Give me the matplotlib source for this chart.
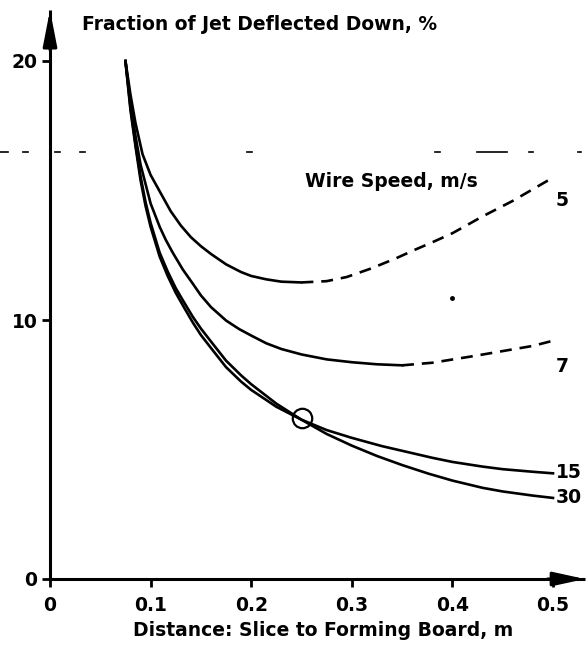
import matplotlib
matplotlib.use("Agg")
import matplotlib.pyplot as plt

# ---- data ----
x5_solid = [0.075, 0.08, 0.085, 0.092, 0.1, 0.11, 0.12, 0.13, 0.14, 0.15, 0.16, 0.175, 0.19, 0.2, 0.215, 0.23, 0.25]
y5_solid = [20.0, 18.7, 17.6, 16.4, 15.6, 14.9, 14.2, 13.65, 13.2, 12.85, 12.55, 12.15, 11.85, 11.7, 11.57, 11.48, 11.45]
x5_dash = [0.25, 0.275, 0.295, 0.32, 0.345, 0.362, 0.38, 0.4, 0.43, 0.46, 0.48, 0.5]
y5_dash = [11.45, 11.5, 11.66, 12.0, 12.4, 12.7, 13.0, 13.35, 14.0, 14.6, 15.05, 15.5]

x7_solid = [0.075, 0.08, 0.085, 0.09, 0.1, 0.109, 0.115, 0.122, 0.132, 0.142, 0.15, 0.16, 0.175, 0.188, 0.2, 0.215, 0.23, 0.25, 0.275, 0.3, 0.325, 0.35]
y7_solid = [20.0, 18.4, 17.1, 16.0, 14.5, 13.6, 13.1, 12.6, 11.95, 11.4, 10.95, 10.5, 9.98, 9.65, 9.4, 9.1, 8.88, 8.67, 8.48, 8.37, 8.29, 8.25]
x7_dash = [0.35, 0.38, 0.42, 0.45, 0.48, 0.5]
y7_dash = [8.25, 8.35, 8.6, 8.8, 9.0, 9.2]

x15 = [0.075, 0.08, 0.085, 0.09, 0.095, 0.1, 0.109, 0.117, 0.125, 0.133, 0.142, 0.15, 0.16, 0.175, 0.19, 0.2, 0.225, 0.25, 0.275, 0.3, 0.33, 0.35, 0.38, 0.4, 0.43, 0.45, 0.48, 0.5]
y15 = [20.0, 18.1, 16.7, 15.4, 14.4, 13.6, 12.45, 11.7, 11.05, 10.5, 9.9, 9.42, 8.92, 8.18, 7.62, 7.3, 6.65, 6.15, 5.75, 5.45, 5.13, 4.95, 4.68, 4.52, 4.34, 4.24, 4.14, 4.08]
x30 = [0.075, 0.08, 0.085, 0.09, 0.095, 0.1, 0.109, 0.117, 0.125, 0.133, 0.142, 0.15, 0.16, 0.175, 0.19, 0.2, 0.225, 0.25, 0.275, 0.3, 0.325, 0.35, 0.376, 0.4, 0.43, 0.45, 0.48, 0.5]
y30 = [20.0, 18.2, 16.8, 15.55, 14.55, 13.75, 12.6, 11.87, 11.23, 10.7, 10.12, 9.67, 9.17, 8.43, 7.86, 7.52, 6.77, 6.15, 5.6, 5.15, 4.75, 4.4, 4.07, 3.8, 3.52, 3.38, 3.22, 3.13]

end_labels = ["5", "7", "15", "30"]
end_label_y = [14.6, 8.2, 4.13, 3.13]
circle_point = (0.25, 6.2)

x_ticks = [0, 0.1, 0.2, 0.3, 0.4, 0.5]
x_tick_labels = ["0", "0.1", "0.2", "0.3", "0.4", "0.5"]
y_ticks = [0, 10, 20]
y_tick_labels = ["0", "10", "20"]

title_text = "Fraction of Jet Deflected Down, %"
xlabel_text = "Distance: Slice to Forming Board, m"
legend_title = "Wire Speed, m/s"

# ---- figure ----
FONT = ["DejaVu Sans"]
plt.rcParams["font.family"] = FONT
plt.rcParams["font.weight"] = "bold"
FS = 13.5

W, H = 588, 650
fig = plt.figure(figsize=(W / 100, H / 100), dpi=100)
ax = fig.add_axes([50 / W, 71 / H, 535 / W, 569 / H])
ax.set_xlim(0, 535 / 1006)
ax.set_ylim(0, 569 / 25.9)

for s in ["top", "right"]:
    ax.spines[s].set_visible(False)
for s in ["left", "bottom"]:
    ax.spines[s].set_linewidth(2.2)
    ax.spines[s].set_capstyle("butt")

ax.set_xticks(x_ticks)
ax.set_xticklabels(x_tick_labels, fontsize=FS, fontweight="bold")
ax.set_yticks(y_ticks)
ax.set_yticklabels(y_tick_labels, fontsize=FS, fontweight="bold")
ax.tick_params(axis="x", direction="out", length=6, width=2, pad=6)
ax.tick_params(axis="y", direction="out", length=6, width=2, pad=3)

# arrow heads on axes
ax.annotate("", xy=(1.0, 0), xytext=(0.93, 0), xycoords="axes fraction",
            arrowprops=dict(arrowstyle="-|>,head_length=1.6,head_width=0.35",
                            mutation_scale=12, color="black", lw=2.2,
                            shrinkA=0, shrinkB=0), annotation_clip=False)
ax.annotate("", xy=(0, 1.0), xytext=(0, 0.93), xycoords="axes fraction",
            arrowprops=dict(arrowstyle="-|>,head_length=1.8,head_width=0.35",
                            mutation_scale=12, color="black", lw=2.2,
                            shrinkA=0, shrinkB=0), annotation_clip=False)

lw = 1.9
ax.plot(x5_solid, y5_solid, color="black", lw=lw, solid_capstyle="round", solid_joinstyle="round")
ax.plot(x5_dash, y5_dash, color="black", lw=lw, dashes=(4.5, 3), dash_capstyle="butt")
ax.plot(x7_solid, y7_solid, color="black", lw=lw, solid_joinstyle="round")
ax.plot(x7_dash, y7_dash, color="black", lw=lw, dashes=(4.5, 3), dash_capstyle="butt")
ax.plot(x15, y15, color="black", lw=lw, solid_joinstyle="round")
ax.plot(x30, y30, color="black", lw=lw, solid_joinstyle="round")

ax.plot([circle_point[0]], [circle_point[1]], marker="o", ms=14, mfc="none",
        mec="black", mew=1.6, clip_on=False)
ax.plot([0.4], [10.85], marker="o", ms=2.5, color="black")

for lab, yv in zip(end_labels, end_label_y):
    ax.text(0.503, yv, lab, fontsize=FS, fontweight="bold", ha="left", va="center",
            clip_on=False)

ax.text(0.2535, 15.33, legend_title, fontsize=FS, fontweight="bold", ha="left", va="center")

# scan-line artifact near the top (broken dashes)
artifact = [(-0.05, -0.042), (-0.027, -0.022), (0.005, 0.01), (0.03, 0.035),
            (0.196, 0.201), (0.383, 0.388), (0.424, 0.454), (0.476, 0.48), (0.525, 0.528)]
for a, b in artifact:
    ax.plot([a, b], [16.5, 16.5], color="black", lw=1.2, clip_on=False)

fig.text(82 / W, 1 - 24 / H, title_text, fontsize=FS, fontweight="bold", ha="left", va="center")
fig.text(323 / W, 1 - 630 / H, xlabel_text, fontsize=FS, fontweight="bold", ha="center", va="center")

fig.savefig("out.png", dpi=100)
